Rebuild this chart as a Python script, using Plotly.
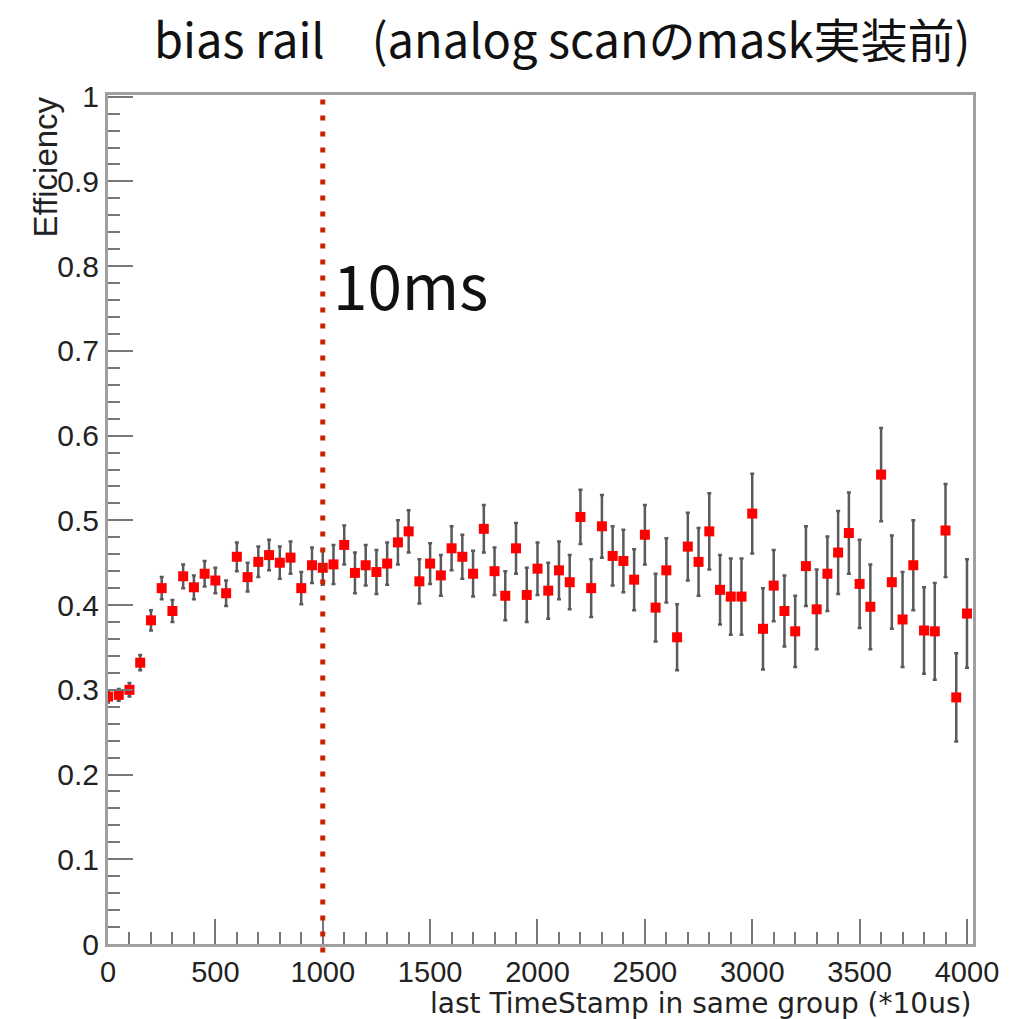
import plotly.graph_objects as go

# bin positions (last TimeStamp, *10us)
timestamps = list(range(0, 4001, 50))

efficiency = [
    0.292, 0.294, 0.300, 0.332, 0.382, 0.420, 0.393, 0.434, 0.421, 0.437,
    0.429, 0.414, 0.457, 0.433, 0.451, 0.459, 0.450, 0.456, 0.420, 0.447,
    0.444, 0.448, 0.471, 0.438, 0.447, 0.439, 0.449, 0.474, 0.487, 0.428,
    0.449, 0.435, 0.467, 0.457, 0.437, 0.490, 0.440, 0.411, 0.467, 0.412,
    0.443, 0.417, 0.441, 0.427, 0.504, 0.420, 0.493, 0.458, 0.452, 0.430,
    0.483, 0.397, 0.441, 0.362, 0.469, 0.451, 0.487, 0.418, 0.410, 0.410,
    0.508, 0.372, 0.423, 0.393, 0.369, 0.446, 0.395, 0.437, 0.462, 0.485,
    0.425, 0.398, 0.554, 0.427, 0.383, 0.447, 0.370, 0.369, 0.488, 0.291,
    0.390,
]

errors = [
    0.007, 0.007, 0.008, 0.009, 0.012, 0.013, 0.013, 0.014, 0.014, 0.015,
    0.015, 0.015, 0.017, 0.017, 0.018, 0.018, 0.019, 0.019, 0.019, 0.021,
    0.020, 0.023, 0.023, 0.024, 0.024, 0.026, 0.025, 0.026, 0.025, 0.026,
    0.024, 0.024, 0.026, 0.026, 0.027, 0.028, 0.028, 0.029, 0.030, 0.032,
    0.031, 0.033, 0.034, 0.032, 0.032, 0.034, 0.037, 0.035, 0.037, 0.036,
    0.035, 0.040, 0.038, 0.039, 0.040, 0.040, 0.045, 0.041, 0.045, 0.045,
    0.047, 0.048, 0.042, 0.042, 0.042, 0.047, 0.047, 0.044, 0.049, 0.048,
    0.052, 0.050, 0.055, 0.055, 0.056, 0.053, 0.051, 0.057, 0.055, 0.052,
    0.064,
]

marker_x = 1000
marker_label = "10ms"
title_text = "bias rail\u3000(analog scanのmask実装前)"
x_title = "last TimeStamp in same group (*10us)"
y_title = "Efficiency"

fig = go.Figure()
fig.add_trace(go.Scatter(
    x=timestamps, y=efficiency, mode="markers",
    marker=dict(symbol="square", size=10, color="#ff0000"),
    error_y=dict(type="data", array=errors, visible=True,
                 color="#5a5a5a", thickness=2.5, width=2),
    showlegend=False,
))

font_fam = "Liberation Sans, Arial, sans-serif"

fig.update_layout(
    width=1028, height=1019,
    margin=dict(l=108, r=55, t=95, b=75),
    paper_bgcolor="white", plot_bgcolor="white",
    xaxis=dict(
        range=[0, 4028], tick0=0, dtick=500,
        ticks="inside", ticklen=25, tickwidth=2, tickcolor="#777777",
        minor=dict(ticks="inside", ticklen=12, dtick=100, tickwidth=2, tickcolor="#777777"),
        showline=True, linecolor="#a0a0a0", linewidth=3, mirror=True,
        showgrid=False, zeroline=False,
        tickfont=dict(family=font_fam, size=29, color="#222222"),
    ),
    yaxis=dict(
        range=[0, 1.002], tick0=0, dtick=0.1,
        ticks="inside", ticklen=25, tickwidth=2, tickcolor="#777777",
        minor=dict(ticks="inside", ticklen=12, dtick=0.02, tickwidth=2, tickcolor="#777777"),
        showline=True, linecolor="#a0a0a0", linewidth=3, mirror=True,
        showgrid=False, zeroline=False,
        tickfont=dict(family=font_fam, size=30, color="#222222"),
    ),
    shapes=[dict(
        type="line", xref="x", yref="paper",
        x0=marker_x, x1=marker_x, y0=-0.01, y1=1.0,
        line=dict(color="#cc2200", width=5, dash="5px,11px"),
    )],
    annotations=[
        dict(text=title_text, xref="paper", yref="paper", x=0.525, y=1.0,
             yshift=58, showarrow=False, xanchor="center", yanchor="middle",
             font=dict(family="Noto Sans CJK JP", size=47, color="#111111")),
        dict(text=marker_label, xref="x", yref="y", x=marker_x, y=0.78,
             xshift=8, showarrow=False, xanchor="left", yanchor="middle",
             font=dict(family="Noto Sans CJK JP", size=62, color="#111111")),
        dict(text=x_title, xref="paper", yref="paper", x=1.0, y=0,
             yshift=-59, showarrow=False, xanchor="right", yanchor="middle",
             font=dict(family="DejaVu Sans", size=28, color="#222222")),
        dict(text=y_title, xref="paper", yref="paper", x=0, y=1.0,
             xshift=-63, textangle=-90, showarrow=False,
             xanchor="center", yanchor="top",
             font=dict(family=font_fam, size=33, color="#222222")),
    ],
)

fig.write_html("out.html")
